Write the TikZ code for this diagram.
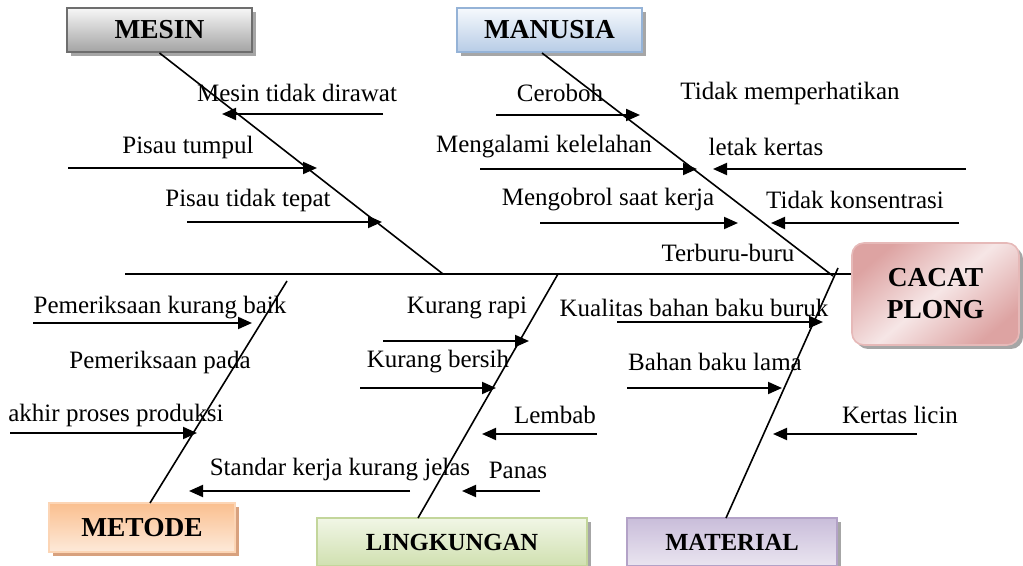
\documentclass[tikz,border=0pt]{standalone}
\usepackage{fontspec}
\setmainfont{Liberation Serif}
\usetikzlibrary{arrows.meta,shadows}
\definecolor{mesinTop}{HTML}{F7F7F7}
\definecolor{mesinBot}{HTML}{A3A3A3}
\definecolor{mesinBrd}{HTML}{6E6E6E}
\definecolor{manTop}{HTML}{F6F9FD}
\definecolor{manBot}{HTML}{B7CCE6}
\definecolor{manBrd}{HTML}{95B3D7}
\definecolor{metTop}{HTML}{FABF8F}
\definecolor{metBot}{HTML}{FDEADA}
\definecolor{metBrd}{HTML}{FCD5B5}
\definecolor{metShd}{HTML}{D8A17E}
\definecolor{linTop}{HTML}{F1F6E6}
\definecolor{linBot}{HTML}{D0E0B0}
\definecolor{linBrd}{HTML}{C3D69B}
\definecolor{matTop}{HTML}{C9BDDA}
\definecolor{matBot}{HTML}{EAE5F0}
\definecolor{matBrd}{HTML}{B3A2C7}
\definecolor{cacOut}{HTML}{DDA3A2}
\definecolor{cacIn}{HTML}{F6E6E6}
\definecolor{cacBrd}{HTML}{E6B9B8}
\begin{document}
\begin{tikzpicture}[x=0.5pt,y=-0.5pt,
  arr/.style={line width=1pt,-{Triangle[length=7pt,width=6pt]}},
  bone/.style={line width=0.8pt},
  lbl/.style={font=\fontsize{12.5}{14}\selectfont, inner sep=0pt},
  box/.style={draw, line width=1pt, inner sep=0pt,
    font=\fontsize{13.7}{15}\selectfont\bfseries,
    drop shadow={fill=black!35, opacity=1, shadow xshift=2pt, shadow yshift=-2pt}},
  smallbox/.style={box, font=\fontsize{12.3}{14}\selectfont\bfseries}
]
\useasboundingbox (0,0) rectangle (1023,566);

% ---------- boxes ----------
\node[box, draw=mesinBrd, top color=mesinTop, bottom color=mesinBot,
      minimum width=92.5pt, minimum height=22pt] (mesin) at (159.5,30) {MESIN};
\node[box, draw=manBrd, top color=manTop, bottom color=manBot,
      minimum width=92.5pt, minimum height=22pt] (manusia) at (549.5,30) {MANUSIA};
\node[box, draw=metBrd, top color=metTop, bottom color=metBot,
      drop shadow={fill=metShd, opacity=1, shadow xshift=2pt, shadow yshift=-2pt},
      minimum width=93pt, minimum height=24.5pt] (metode) at (142,527.5) {METODE};
\node[smallbox, draw=linBrd, top color=linTop, bottom color=linBot,
      minimum width=135pt, minimum height=24pt] (lingkungan) at (452,542) {LINGKUNGAN};
\node[smallbox, draw=matBrd, top color=matTop, bottom color=matBot,
      minimum width=105pt, minimum height=24pt] (material) at (732,542) {MATERIAL};
\node[box, draw=cacBrd, line width=0.8pt, rounded corners=6pt,
      top color=cacOut, bottom color=cacOut, middle color=cacIn, shading angle=40,
      minimum width=83.5pt, minimum height=51pt, align=center] (cacat) at (935.5,294)
      {CACAT\\[1pt]PLONG};

% ---------- spine and bones ----------
\coordinate (sp) at (125,274);
\draw[line width=1pt] (sp) -- (sp -| cacat.west);

\coordinate (mesinEnd) at (443,274);
\draw[bone] (mesin.south) -- (mesinEnd);

\coordinate (manStart) at (542,53);
\coordinate (manEnd) at (833,276);
\draw[bone] (manStart) -- (manEnd);

\coordinate (metBot) at (150,503);
\coordinate (metTopC) at (287,281);
\draw[bone] (metBot) -- (metTopC);

\coordinate (linBot) at (418,518);
\coordinate (linTopC) at (558,274);
\draw[bone] (linBot) -- (linTopC);

\coordinate (matBot) at (726,518);
\coordinate (matTopC) at (838,268);
\draw[bone] (matBot) -- (matTopC);

% ---------- MESIN causes ----------
\node[lbl] (t1) at (297,93) {Mesin tidak dirawat};
\coordinate (a1s) at (383,114); \coordinate (a1e) at (222,114);
\draw[arr] (a1s) -- (a1e);
\node[lbl] (t2) at (188,147) {Pisau tumpul};
\coordinate (a2s) at (68,168); \coordinate (a2e) at (317,168);
\draw[arr] (a2s) -- (a2e);
\node[lbl] (t3) at (248,200) {Pisau tidak tepat};
\coordinate (a3s) at (187,222); \coordinate (a3e) at (382,222);
\draw[arr] (a3s) -- (a3e);

% ---------- MANUSIA causes ----------
\node[lbl] (t4) at (560,93) {Ceroboh};
\coordinate (a4s) at (496,115); \coordinate (a4e) at (640,115);
\draw[arr] (a4s) -- (a4e);
\node[lbl] (t5) at (790,93) {Tidak memperhatikan};
\node[lbl] (t6) at (544,147) {Mengalami kelelahan};
\coordinate (a6s) at (480,169); \coordinate (a6e) at (697,169);
\draw[arr] (a6s) -- (a6e);
\node[lbl] (t7) at (766,147) {letak kertas};
\coordinate (a7s) at (966,169); \coordinate (a7e) at (713,169);
\draw[arr] (a7s) -- (a7e);
\node[lbl] (t8) at (608,200) {Mengobrol saat kerja};
\coordinate (a8s) at (540,223); \coordinate (a8e) at (738,223);
\draw[arr] (a8s) -- (a8e);
\node[lbl] (t9) at (855,200) {Tidak konsentrasi};
\coordinate (a9s) at (959,223); \coordinate (a9e) at (771,223);
\draw[arr] (a9s) -- (a9e);
\node[lbl] (t10) at (728,253) {Terburu-buru};

% ---------- METODE causes ----------
\node[lbl] (t11) at (160,308) {Pemeriksaan kurang baik};
\coordinate (a11s) at (33,323); \coordinate (a11e) at (252,323);
\draw[arr] (a11s) -- (a11e);
\node[lbl] (t12) at (160,362) {Pemeriksaan pada};
\node[lbl] (t13) at (116,415) {akhir proses produksi};
\coordinate (a13s) at (10,433); \coordinate (a13e) at (197,433);
\draw[arr] (a13s) -- (a13e);
\node[lbl] (t14) at (340,470) {Standar kerja kurang jelas};
\coordinate (a14s) at (410,491); \coordinate (a14e) at (189,491);
\draw[arr] (a14s) -- (a14e);

% ---------- LINGKUNGAN causes ----------
\node[lbl] (t15) at (467,308) {Kurang rapi};
\coordinate (a15s) at (383,341); \coordinate (a15e) at (529,341);
\draw[arr] (a15s) -- (a15e);
\node[lbl] (t16) at (438,362) {Kurang bersih};
\coordinate (a16s) at (360,388); \coordinate (a16e) at (496,388);
\draw[arr] (a16s) -- (a16e);
\node[lbl] (t17) at (555,415) {Lembab};
\coordinate (a17s) at (597,434); \coordinate (a17e) at (482,434);
\draw[arr] (a17s) -- (a17e);
\node[lbl] (t18) at (518,470) {Panas};
\coordinate (a18s) at (540,491); \coordinate (a18e) at (462,491);
\draw[arr] (a18s) -- (a18e);

% ---------- MATERIAL causes ----------
\node[lbl] (t19) at (694,308) {Kualitas bahan baku buruk};
\coordinate (a19s) at (617,322); \coordinate (a19e) at (823,322);
\draw[arr] (a19s) -- (a19e);
\node[lbl] (t20) at (715,362) {Bahan baku lama};
\coordinate (a20s) at (627,388); \coordinate (a20e) at (782,388);
\draw[arr] (a20s) -- (a20e);
\node[lbl] (t21) at (900,415) {Kertas licin};
\coordinate (a21s) at (917,434); \coordinate (a21e) at (773,434);
\draw[arr] (a21s) -- (a21e);
\end{tikzpicture}
\end{document}
